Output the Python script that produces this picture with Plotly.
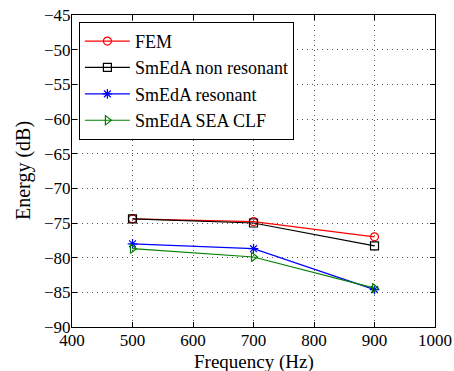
import plotly.graph_objects as go

# frequency bands (Hz)
freq = [500, 700, 900]

# energies (dB)
fem = [-74.4, -74.8, -77.0]
smeda_nonres = [-74.4, -75.0, -78.3]
smeda_res = [-78.0, -78.7, -84.6]
smeda_sea_clf = [-78.7, -79.9, -84.4]

series = [
    ("FEM", fem, "red", "circle-open"),
    ("SmEdA non resonant", smeda_nonres, "black", "square-open"),
    ("SmEdA resonant", smeda_res, "blue", "asterisk-open"),
    ("SmEdA SEA CLF", smeda_sea_clf, "green", "triangle-right-open"),
]

fig = go.Figure()
for name, vals, col, sym in series:
    fig.add_trace(go.Scatter(
        x=freq, y=vals, name=name, mode="lines+markers",
        line=dict(color=col, width=1.2),
        marker=dict(symbol=sym, size=8, color=col, line=dict(color=col, width=1.2)),
    ))

axis_style = dict(
    showline=True, linecolor="black", linewidth=1, mirror="ticks",
    ticks="inside", ticklen=5, tickcolor="black",
    showgrid=True, gridcolor="#555", griddash="1px,4px", gridwidth=1,
    zeroline=False, tickfont=dict(size=17, color="black"), automargin=False,
)

fig.update_xaxes(range=[400, 1000], dtick=100, ticklabelstandoff=-2, **axis_style)
fig.update_yaxes(range=[-90, -45], dtick=5, ticklabelstandoff=-3, **axis_style)

# axis titles as annotations so they sit where the reference has them
fig.add_annotation(text="Frequency (Hz)", xref="paper", yref="paper", x=0.5, y=0,
                   yshift=-35, showarrow=False, yanchor="middle",
                   font=dict(size=19, color="black"))
fig.add_annotation(text="Energy (dB)", xref="paper", yref="paper", x=0, y=0.5,
                   xshift=-49, showarrow=False, textangle=-90, xanchor="center",
                   font=dict(size=20, color="black"))

fig.update_layout(
    width=454, height=371,
    margin=dict(l=72, r=19, t=15, b=44),
    paper_bgcolor="white", plot_bgcolor="white",
    font=dict(family="Liberation Serif, Times New Roman, serif", color="black"),
    legend=dict(x=0.019, y=0.978, xanchor="left", yanchor="top",
                bordercolor="black", borderwidth=1, bgcolor="white",
                font=dict(size=18), tracegroupgap=0, itemwidth=45),
    showlegend=True,
)

# drop the browser's default 8px body margin so the figure fills the window
fig.write_html("out.html", config={"displayModeBar": False},
               post_script="document.body.style.margin = '0';")
